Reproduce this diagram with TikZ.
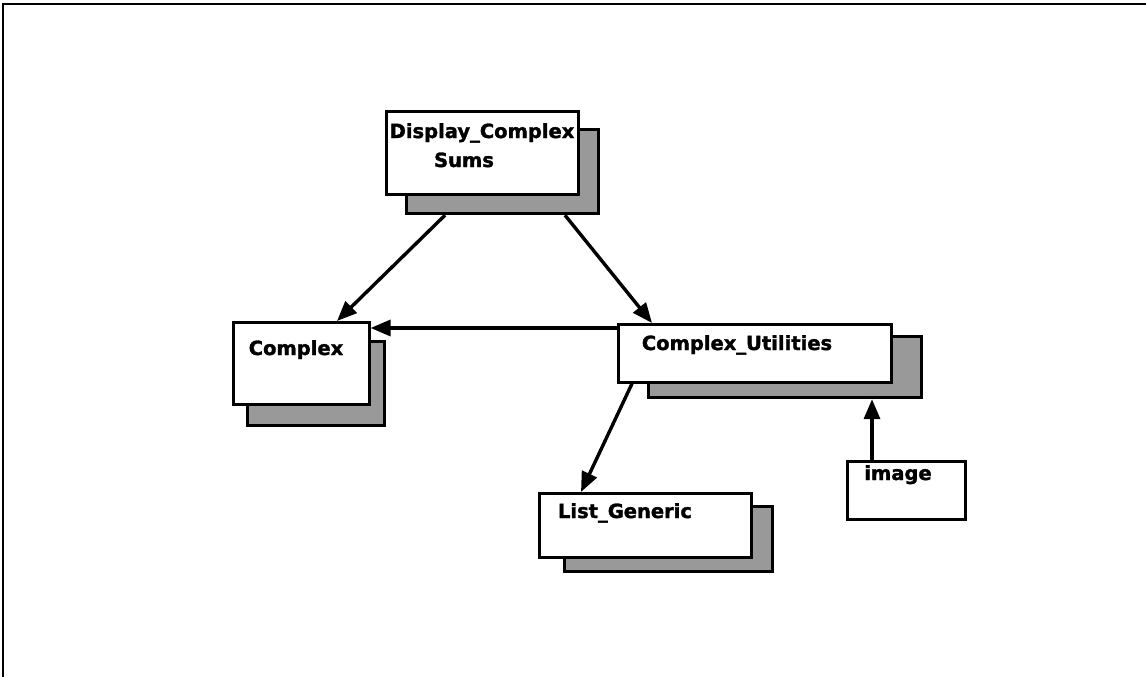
\documentclass[tikz,border=0pt]{standalone}
\usepackage{fontspec}
\setmainfont{DejaVu Sans}
\newfontfamily\lab{DejaVu Sans}[BoldFeatures={FakeBold=1.6}]
\usetikzlibrary{arrows.meta,calc}
\begin{document}
\begin{tikzpicture}[x=1pt,y=-1pt,
  front/.style={draw=black,line width=2.6pt,fill=white,inner sep=0pt,anchor=north west},
  shadow/.style={draw=black,line width=3.2pt,fill=black!40,inner sep=0pt,anchor=north west},
  lbl/.style={font=\lab\fontsize{19.5}{22}\selectfont\bfseries,inner sep=0pt,anchor=base},
  arr/.style={line width=3.4pt,-{Triangle[length=20pt,width=16pt]}},
  frame/.style={line width=1.4pt}]
\useasboundingbox (0,0) rectangle (1146,677);
\coordinate (f0) at (3,677);
\coordinate (f1) at (3,4);
\coordinate (f2) at (1146,4);
\draw[frame] (f0) -- (f1) -- (f2);

% Display_Complex Sums
\node[shadow,minimum width=192pt,minimum height=84pt] (ds) at (405,128) {};
\node[front,minimum width=192pt,minimum height=83pt] (d) at (385,110) {};
\node[lbl] (dt1) at (482,138) {Display\_Complex};
\node[lbl] (dt2) at (464,167) {Sums};

% Complex
\node[shadow,minimum width=137pt,minimum height=84pt] (cs) at (246,340) {};
\node[front,minimum width=136pt,minimum height=82pt] (c) at (232,321) {};
\node[lbl] (ct) at (296,355) {Complex};

% Complex_Utilities
\node[shadow,minimum width=273pt,minimum height=61pt] (cus) at (647,335) {};
\node[front,minimum width=273pt,minimum height=58pt] (cu) at (617,323) {};
\node[lbl] (cut) at (737,350) {Complex\_Utilities};

% List_Generic
\node[shadow,minimum width=208pt,minimum height=65pt] (ls) at (563,505) {};
\node[front,minimum width=212pt,minimum height=64pt] (l) at (538,492) {};
\node[lbl] (lt) at (625,518) {List\_Generic};

% image
\node[front,minimum width=118pt,minimum height=58pt] (im) at (846,460) {};
\node[lbl] (imt) at (898,480) {image};

% connectors
\draw[arr] ($(ds.south west)+(40,0)$) -- ($(c.north west)+(105,0)$);
\draw[arr] ($(ds.south west)+(160,0)$) -- ($(cu.north west)+(35,0)$);
\draw[arr] ($(cu.north west)+(0,5)$) -- ($(c.north east)+(0,7)$);
\draw[arr] ($(cu.south west)+(15,0)$) -- ($(l.north west)+(43,0)$);
\draw[arr] ($(im.north west)+(26,0)$) -- ($(cus.south west)+(225,0)$);
\end{tikzpicture}
\end{document}
